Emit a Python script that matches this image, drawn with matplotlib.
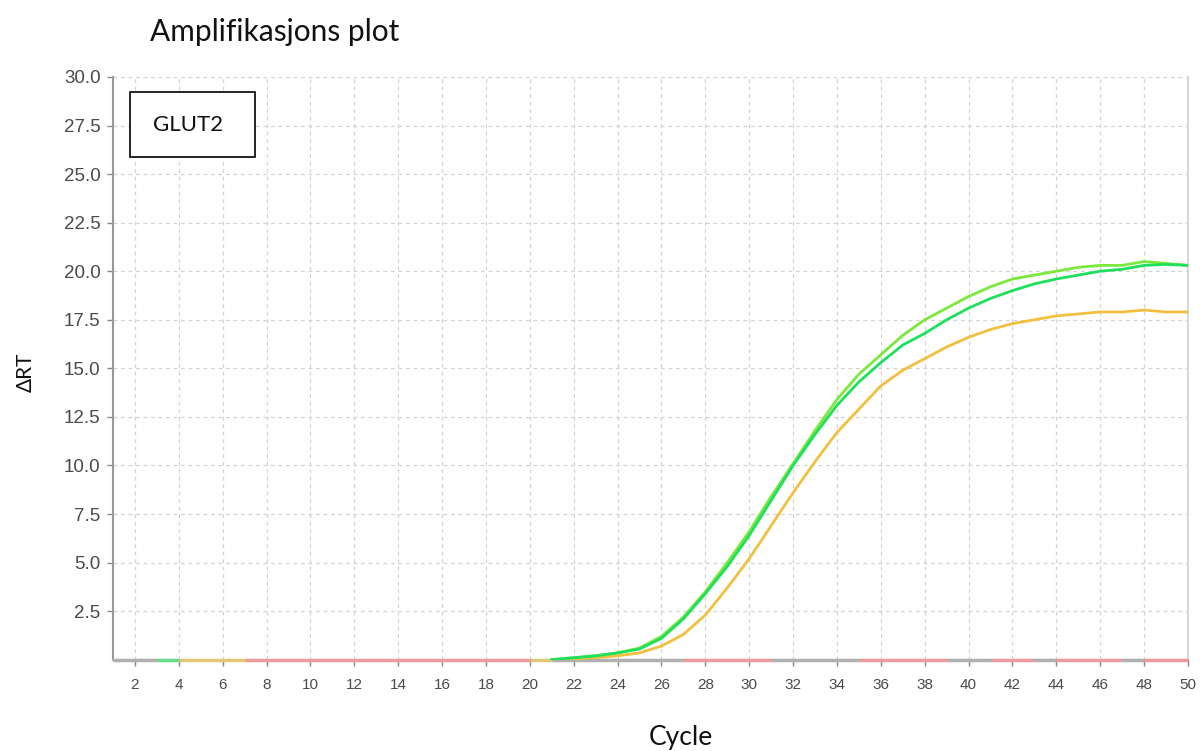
import matplotlib
matplotlib.use("Agg")
import matplotlib.pyplot as plt
from matplotlib.patches import Rectangle

# --- data ---
cycles = list(range(21, 51))
light_green = [0.0, 0.1, 0.2, 0.35, 0.6, 1.2, 2.2, 3.5, 5.0, 6.6, 8.4, 10.1, 11.8, 13.4, 14.7,
               15.7, 16.7, 17.5, 18.1, 18.7, 19.2, 19.6, 19.8, 20.0, 20.2, 20.3, 20.3, 20.5, 20.4, 20.3]
dark_green = [0.0, 0.1, 0.2, 0.35, 0.55, 1.1, 2.1, 3.4, 4.8, 6.4, 8.2, 10.0, 11.6, 13.1, 14.3,
              15.3, 16.2, 16.8, 17.5, 18.1, 18.6, 19.0, 19.35, 19.6, 19.8, 20.0, 20.1, 20.3, 20.35, 20.3]
orange = [0.0, 0.05, 0.1, 0.2, 0.35, 0.7, 1.3, 2.3, 3.7, 5.2, 6.9, 8.6, 10.2, 11.7, 12.9,
          14.1, 14.9, 15.5, 16.1, 16.6, 17.0, 17.3, 17.5, 17.7, 17.8, 17.9, 17.9, 18.0, 17.9, 17.9]

# flat traces lying on the baseline (cycle ranges)
flat_start = [1, 3, 4, 7, 20, 21, 27, 31, 35, 39, 41, 43, 44, 47, 48]
flat_end = [3, 4, 7, 20, 21, 27, 31, 35, 39, 41, 43, 44, 47, 48, 50]
flat_color = ["#b0b0b0", "#66dd88", "#e0c878", "#ee9a9a", "#e0c878", "#b0b0b0", "#ee9a9a",
              "#b0b0b0", "#ee9a9a", "#b0b0b0", "#ee9a9a", "#b0b0b0", "#ee9a9a", "#b0b0b0", "#ee9a9a"]

x_ticks = list(range(2, 51, 2))
y_ticks = [2.5, 5.0, 7.5, 10.0, 12.5, 15.0, 17.5, 20.0, 22.5, 25.0, 27.5, 30.0]

fig = plt.figure(figsize=(12, 7.51), dpi=100)
ax = fig.add_axes([0.0942, 0.1216, 0.8958, 0.7759])

# baseline traces
for s, e, c in zip(flat_start, flat_end, flat_color):
    ax.plot([s, e], [0, 0], color=c, linewidth=2.5, solid_capstyle="butt",
            clip_on=False, zorder=4)

ax.plot(cycles, orange, color="#f2c040", linewidth=2, zorder=5)
ax.plot(cycles, light_green, color="#7be83c", linewidth=2, zorder=6)
ax.plot(cycles, dark_green, color="#1ee05c", linewidth=2, zorder=7)

ax.set_xlim(1, 50)
ax.set_ylim(0, 30)
ax.set_xticks(x_ticks)
ax.set_yticks(y_ticks)
ax.set_yticklabels([f"{v:.1f}" for v in y_ticks])
ax.tick_params(axis="both", direction="out", length=4, width=1, color="#888",
               labelcolor="#4a4a4a")
ax.tick_params(axis="x", labelsize=11, pad=9)
ax.tick_params(axis="y", labelsize=13.5, pad=5)
for lbl in ax.get_xticklabels() + ax.get_yticklabels():
    lbl.set_fontfamily("Liberation Sans")

ax.grid(True, color="#d2d2d2", linestyle=(0, (3, 3)), linewidth=0.9)
ax.set_axisbelow(True)
ax.spines["top"].set_visible(False)
ax.spines["left"].set_color("#999")
ax.spines["left"].set_linewidth(1.5)
ax.spines["bottom"].set_color("#aaa")
ax.spines["bottom"].set_linewidth(1.5)
ax.spines["right"].set_color("#d8d8d8")
ax.spines["right"].set_linewidth(1.5)

fonts = ["Lato", "DejaVu Sans"]
fig.text(150 / 1200, 1 - 32 / 751, "Amplifikasjons plot", fontsize=21.5, family=fonts,
         ha="left", va="center", color="#111")
fig.text(26 / 1200, 1 - 372 / 751, "\u0394RT", fontsize=15, family=fonts,
         rotation=90, ha="center", va="center", color="#111")
fig.text(681 / 1200, 1 - 738 / 751, "Cycle", fontsize=19, family=fonts,
         ha="center", va="center", color="#111")

# label box
fig.patches.append(Rectangle((130 / 1200, 1 - 157 / 751), 125 / 1200, 65 / 751,
                             transform=fig.transFigure, facecolor="white",
                             edgecolor="black", linewidth=1.2, zorder=10))
fig.text(188 / 1200, 1 - 125 / 751, "GLUT2", fontsize=16, family=fonts,
         ha="center", va="center", color="#111", zorder=11)

fig.savefig("out.png", dpi=100)
